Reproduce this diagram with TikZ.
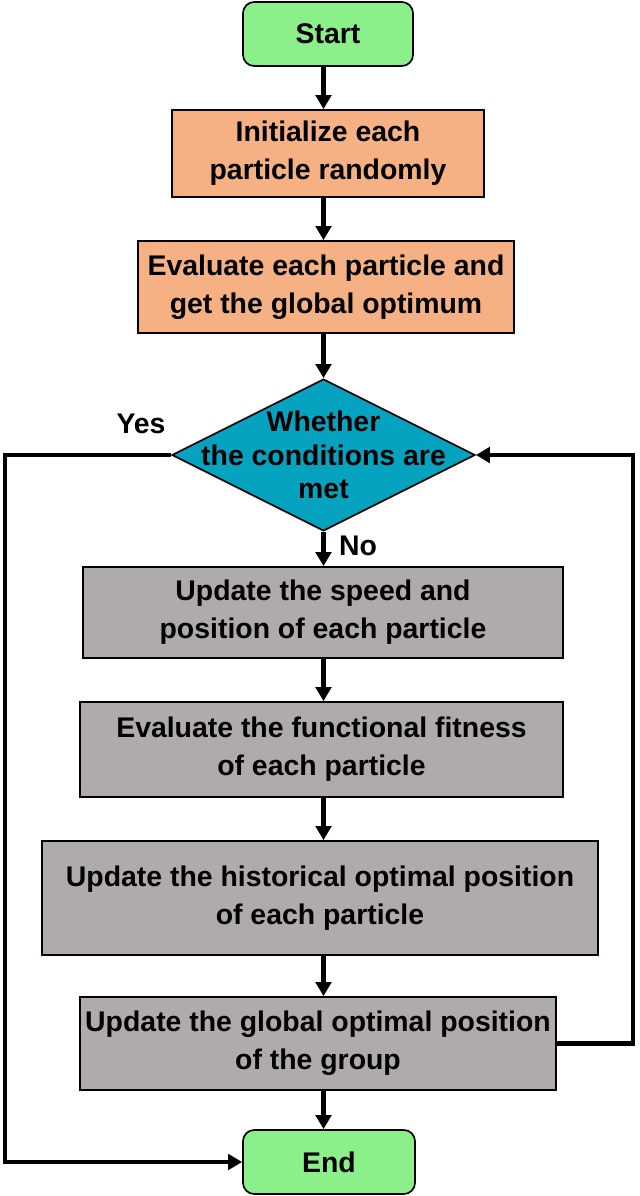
\documentclass[tikz,border=0pt]{standalone}
\usepackage{fontspec}
\setmainfont{Liberation Sans}
\usetikzlibrary{shapes.geometric}
\usetikzlibrary{arrows.meta}

\definecolor{termgreen}{HTML}{8CF08A}
\definecolor{initorange}{HTML}{F5B183}
\definecolor{condteal}{HTML}{05A3BF}
\definecolor{stepgray}{HTML}{AFABAB}

\tikzset{
	term/.style={rectangle, rounded corners=8pt, draw=black, line width=1.2pt, fill=termgreen, align=center},
	initbox/.style={rectangle, draw=black, line width=1.2pt, fill=initorange, align=center, inner xsep=2pt},
	grayblock/.style={rectangle, draw=black, line width=1.2pt, fill=stepgray, align=center, inner xsep=2pt},
	cond/.style={diamond, draw=black, line width=1.2pt, fill=condteal, inner sep=0pt},
	flow/.style={-{Triangle[length=10pt,width=11pt]}, line width=3.2pt},
}

\begin{document}
\begin{tikzpicture}[x=0.025cm, y=-0.025cm, font=\fontsize{20.2}{27}\selectfont\bfseries]
		\useasboundingbox (0,0) rectangle (639,1196);
		\node[term, minimum width=4.25cm, minimum height=1.6cm] (start) at (328, 34) {Start};
		\node[initbox, minimum width=7.8cm, minimum height=2.175cm] (init) at (328, 153.5) {Initialize each\\particle randomly};
		\node[initbox, minimum width=9.4cm, minimum height=2.3cm] (eval) at (326, 287) {Evaluate each particle and\\get the global optimum};
		\node[cond, minimum width=7.575cm, minimum height=3.8cm] (check) at (323.5, 455) {};
		\node[align=center, font=\fontsize{20.2}{24}\selectfont\bfseries] (checktext) at (check) {Whether\\the conditions are\\met};
		\node[grayblock, minimum width=12cm, minimum height=2.275cm] (speed) at (323, 612.5) {Update the speed and\\position of each particle};
		\node[grayblock, minimum width=12.075cm, minimum height=2.375cm] (fitness) at (321.5, 749.5) {Evaluate the functional fitness\\of each particle};
		\node[grayblock, minimum width=13.9cm, minimum height=2.85cm] (history) at (320, 898) {Update the historical optimal position\\of each particle};
		\node[grayblock, minimum width=11.9cm, minimum height=2.325cm] (globalbest) at (318, 1043.5) {Update the global optimal position\\of the group};
		\node[term, minimum width=4.3cm, minimum height=1.6cm] (finish) at (329, 1162) {End};
		\node (yes) at (141, 424) {Yes};
		\node (no) at (358, 546) {No};
		\coordinate (leftturn) at (5, 1162);
		\coordinate (rightturn) at (633, 455);
		\draw[flow] (start.south -| check.north) -- (init.north -| check.north);
		\draw[flow] (init.south -| check.north) -- (eval.north -| check.north);
		\draw[flow] (eval.south -| check.north) -- (check.north);
		\draw[flow] (check.south) -- (speed.north -| check.south);
		\draw[flow] (speed.south -| check.south) -- (fitness.north -| check.south);
		\draw[flow] (fitness.south -| check.south) -- (history.north -| check.south);
		\draw[flow] (history.south -| check.south) -- (globalbest.north -| check.south);
		\draw[flow] (globalbest.south -| check.south) -- (finish.north -| check.south);
		\draw[flow] (check.west) -| (leftturn) -- (finish.west);
		\draw[flow] (globalbest.east) -| (rightturn) -- (check.east);
	\end{tikzpicture}
\end{document}
